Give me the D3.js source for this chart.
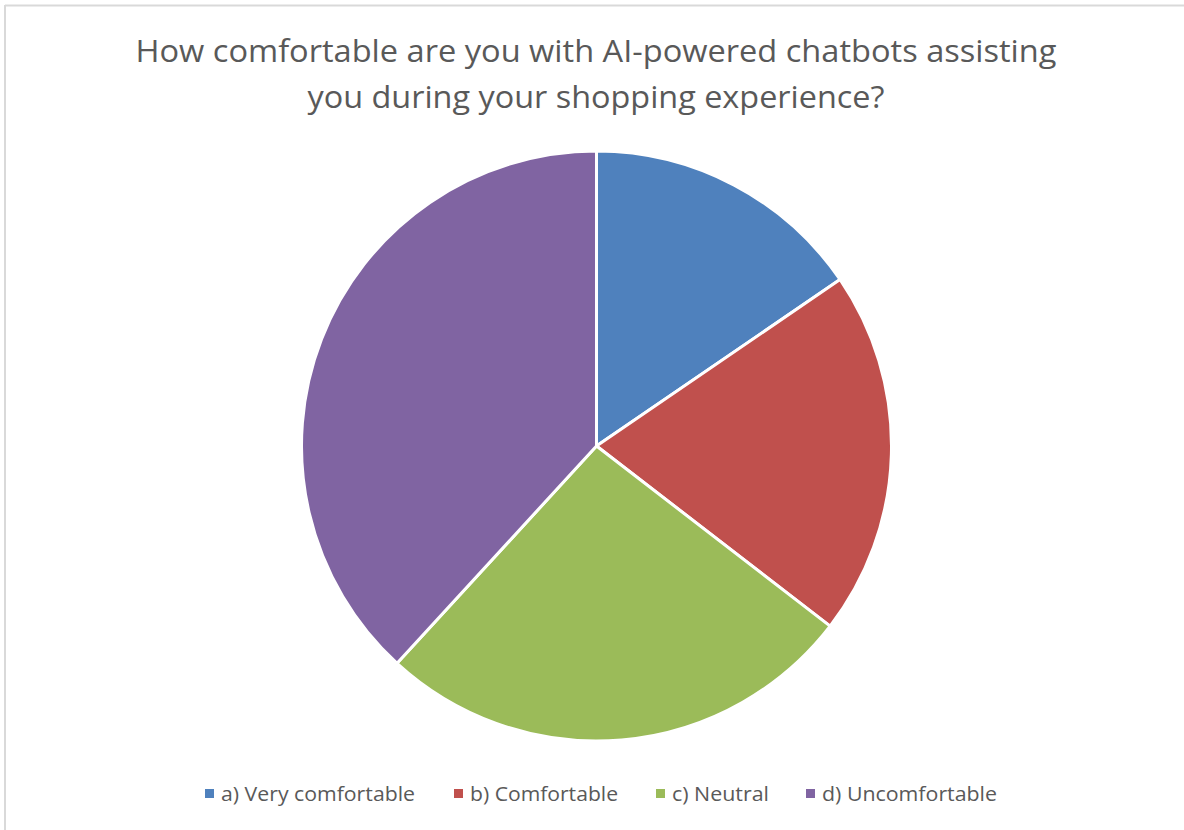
<!DOCTYPE html>
<html>
<head>
<meta charset="utf-8">
<script src="https://cdn.jsdelivr.net/npm/d3@7"></script>
<style>
  html, body { margin: 0; padding: 0; background: #fff; }
  svg { display: block; }
</style>
</head>
<body>
<svg id="chart" width="1184" height="830"></svg>
<script>
// Survey responses
const categories = ["a) Very comfortable", "b) Comfortable", "c) Neutral", "d) Uncomfortable"];
const responses = [17, 22, 29, 42];
const colors = ["#4f81bd", "#c0504d", "#9bbb59", "#8064a2"];
const titleLines = [
  "How comfortable are you with AI-powered chatbots assisting",
  "you during your shopping experience?"
];

const svg = d3.select("#chart");
const W = 1184, H = 830;
const font = "'Open Sans', 'Noto Sans', sans-serif";

// chart frame (left and top edges visible)
svg.append("rect").attr("x", 0).attr("y", 0).attr("width", W).attr("height", H).attr("fill", "#fff");
svg.append("line").attr("x1", 5).attr("x2", 5).attr("y1", 5).attr("y2", H).attr("stroke", "#d9d9d9").attr("stroke-width", 2);
svg.append("line").attr("x1", 5).attr("x2", W).attr("y1", 5.5).attr("y2", 5.5).attr("stroke", "#d9d9d9").attr("stroke-width", 2);

// title
const titleY = [62, 108];
titleLines.forEach((t, i) => {
  const el = svg.append("text")
    .attr("x", 596).attr("y", titleY[i])
    .attr("text-anchor", "middle")
    .attr("font-family", font)
    .attr("font-size", 31)
    .attr("fill", "#595959")
    .text(t);
  const target = i === 0 ? 921 : 577;
  el.attr("textLength", target).attr("lengthAdjust", "spacingAndGlyphs");
});

// pie
const cx = 596.5, cy = 446, R = 295;
const pie = d3.pie().sort(null).value(d => d);
const arc = d3.arc().innerRadius(0).outerRadius(R);
const g = svg.append("g").attr("transform", `translate(${cx},${cy})`);
g.selectAll("path")
  .data(pie(responses))
  .join("path")
  .attr("d", arc)
  .attr("fill", (d, i) => colors[i])
  .attr("stroke", "#fff")
  .attr("stroke-width", 3)
  .attr("stroke-linejoin", "round");

// legend
const legendY = 801;
const textStarts = [221, 470, 672, 822];
const textWidths = [194, 148, 97, 175];
const lg = svg.append("g");
categories.forEach((c, i) => {
  lg.append("rect")
    .attr("x", textStarts[i] - 16).attr("y", legendY - 12)
    .attr("width", 9).attr("height", 9)
    .attr("fill", colors[i]);
  lg.append("text")
    .attr("x", textStarts[i]).attr("y", legendY)
    .attr("font-family", font)
    .attr("font-size", 20)
    .attr("fill", "#595959")
    .attr("textLength", textWidths[i])
    .attr("lengthAdjust", "spacingAndGlyphs")
    .text(c);
});
</script>
</body>
</html>
